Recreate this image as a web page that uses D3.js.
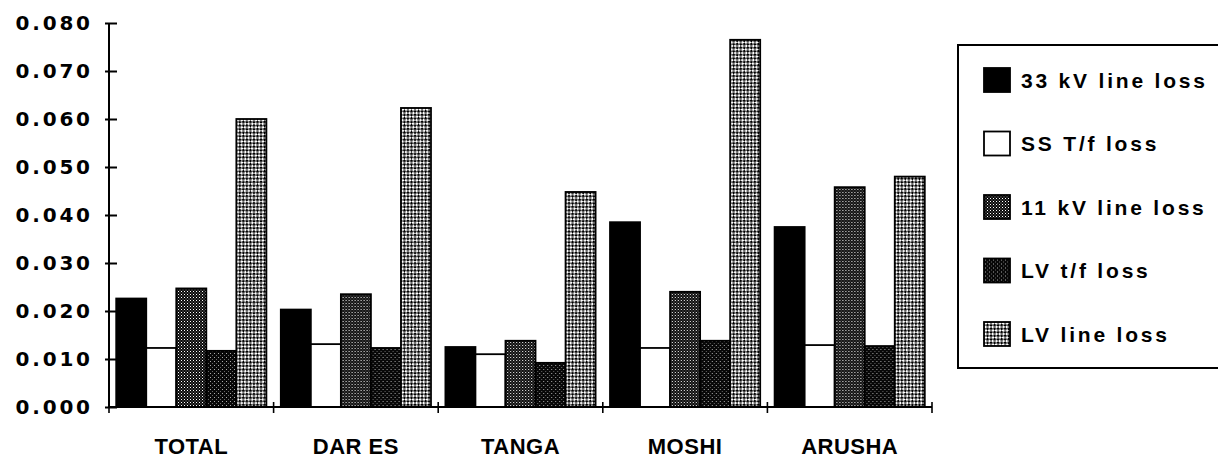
<!DOCTYPE html>
<html>
<head>
<meta charset="utf-8">
<script src="https://cdn.jsdelivr.net/npm/d3@7"></script>
<style>
  body { margin: 0; background: #fff; }
  svg { display: block; }
</style>
</head>
<body>
<svg id="chart" width="1218" height="460"></svg>
<script>
// data
const categories = ['TOTAL', 'DAR ES', 'TANGA', 'MOSHI', 'ARUSHA'];
const seriesNames = ['33 kV line loss', 'SS T/f loss', '11 kV line loss', 'LV t/f loss', 'LV line loss'];
const kv33Loss   = [0.0226, 0.0203, 0.0125, 0.0385, 0.0375];
const ssTfLoss   = [0.0123, 0.0131, 0.0110, 0.0123, 0.0129];
const kv11Loss   = [0.0247, 0.0235, 0.0138, 0.0240, 0.0458];
const lvTfLoss   = [0.0117, 0.0123, 0.0092, 0.0138, 0.0127];
const lvLineLoss = [0.0600, 0.0623, 0.0448, 0.0765, 0.0480];
const yTicks = [0, 0.01, 0.02, 0.03, 0.04, 0.05, 0.06, 0.07, 0.08];

const seriesValues = [kv33Loss, ssTfLoss, kv11Loss, lvTfLoss, lvLineLoss];
const fills = ['#000', '#fff', 'url(#p11)', 'url(#plvtf)', 'url(#plvline)'];

const svg = d3.select('#chart');
const plotL = 109, plotR = 932, plotT = 23, plotB = 407;

// patterns, photocopy look
const defs = svg.append('defs');
let p = defs.append('pattern').attr('id', 'p11').attr('width', 3).attr('height', 3)
    .attr('patternUnits', 'userSpaceOnUse');
p.append('rect').attr('width', 3).attr('height', 3).attr('fill', '#0a0a0a');
p.append('rect').attr('x', 0).attr('y', 0).attr('width', 1).attr('height', 1).attr('fill', '#fff');
p.append('rect').attr('x', 1.5).attr('y', 1.5).attr('width', 1).attr('height', 1).attr('fill', '#999');

p = defs.append('pattern').attr('id', 'plvtf').attr('width', 4).attr('height', 4)
    .attr('patternUnits', 'userSpaceOnUse');
p.append('rect').attr('width', 4).attr('height', 4).attr('fill', '#080808');
p.append('rect').attr('x', 1).attr('y', 1).attr('width', 1).attr('height', 1).attr('fill', '#aaa');
p.append('rect').attr('x', 3).attr('y', 3).attr('width', 1).attr('height', 1).attr('fill', '#666');

p = defs.append('pattern').attr('id', 'plvline').attr('width', 5).attr('height', 5)
    .attr('patternUnits', 'userSpaceOnUse').attr('patternTransform', 'rotate(45)');
p.append('rect').attr('width', 5).attr('height', 5).attr('fill', '#fff');
p.append('rect').attr('x', 0).attr('y', 0).attr('width', 2.6).attr('height', 2.6).attr('fill', '#000');
p.append('rect').attr('x', 2.5).attr('y', 2.5).attr('width', 2.6).attr('height', 2.6).attr('fill', '#000');

const x0 = d3.scaleBand().domain(categories).range([plotL, plotR]).paddingInner(0).paddingOuter(0);
const x1 = d3.scaleBand().domain(d3.range(seriesNames.length)).range([0, x0.bandwidth()])
    .paddingInner(0).paddingOuter(0.24);
const y = d3.scaleLinear().domain([0, 0.08]).range([plotB, plotT]);

// bars
const groups = svg.append('g').selectAll('g').data(categories).join('g')
    .attr('transform', d => `translate(${x0(d)},0)`);
groups.selectAll('rect')
  .data((c, ci) => seriesValues.map((vals, si) => ({ si, v: vals[ci] })))
  .join('rect')
    .attr('x', d => x1(d.si))
    .attr('y', d => y(d.v))
    .attr('width', x1.bandwidth())
    .attr('height', d => plotB - y(d.v))
    .attr('fill', d => fills[d.si])
    .attr('stroke', '#000')
    .attr('stroke-width', 1.8);

// y axis
const yAxis = svg.append('g').attr('transform', `translate(${plotL},0)`)
  .call(d3.axisLeft(y).tickValues(yTicks).tickFormat(d3.format('.3f')).tickSize(4).tickPadding(15));
yAxis.select('.domain').attr('stroke-width', 2).attr('d', `M0,${plotT}V${plotB}`);
yAxis.selectAll('.tick line').attr('x1', -4).attr('x2', 8).attr('stroke-width', 2);
yAxis.selectAll('.tick text')
  .attr('font-family', 'DejaVu Sans').attr('font-weight', 'bold').attr('font-size', 20)
  .attr('letter-spacing', 2.8).attr('dx', 2.8).attr('fill', '#000');

// x axis with ticks at group boundaries
const xAxis = svg.append('g').attr('transform', `translate(0,${plotB})`);
xAxis.append('line').attr('x1', plotL).attr('x2', plotR).attr('stroke', '#000').attr('stroke-width', 2);
const bounds = categories.map(c => x0(c)).concat([plotR]);
xAxis.selectAll('line.tk').data(bounds).join('line').attr('class', 'tk')
  .attr('x1', d => d).attr('x2', d => d).attr('y1', -5).attr('y2', 6)
  .attr('stroke', '#000').attr('stroke-width', 1.6);
xAxis.selectAll('text').data(categories).join('text')
  .attr('x', d => x0(d) + x0.bandwidth() / 2)
  .attr('y', 47)
  .attr('text-anchor', 'middle')
  .attr('font-family', 'Liberation Sans').attr('font-weight', 'bold').attr('font-size', 22)
  .attr('letter-spacing', 0.5)
  .text(d => d);

// legend, its right edge runs off the picture
const lg = svg.append('g');
lg.append('rect').attr('x', 958).attr('y', 45).attr('width', 320).attr('height', 323)
  .attr('fill', 'none').attr('stroke', '#000').attr('stroke-width', 2);
const rowY = d3.scalePoint().domain(d3.range(seriesNames.length)).range([80, 334]);
const rows = lg.selectAll('g.row').data(seriesNames).join('g').attr('class', 'row')
  .attr('transform', (d, i) => `translate(984,${rowY(i)})`);
rows.append('rect').attr('x', 0).attr('y', -12).attr('width', 26).attr('height', 24)
  .attr('fill', (d, i) => fills[i]).attr('stroke', '#000').attr('stroke-width', 1.8);
rows.append('text').attr('x', 37).attr('y', 0).attr('dy', '0.36em')
  .attr('font-family', 'Liberation Sans').attr('font-weight', 'bold').attr('font-size', 21)
  .attr('letter-spacing', 2.8)
  .text(d => d);
</script>
</body>
</html>
